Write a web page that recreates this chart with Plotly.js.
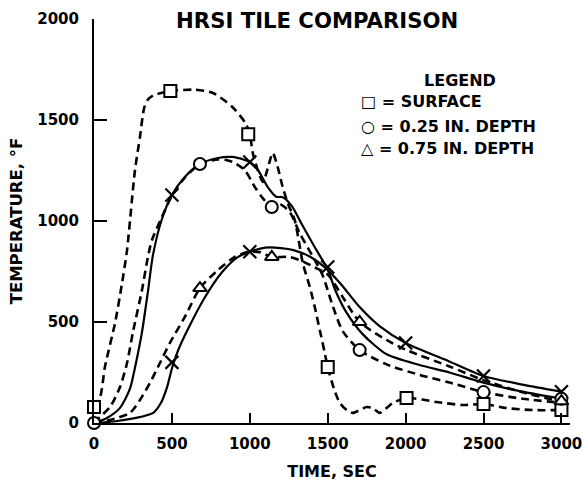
<!DOCTYPE html>
<html>
<head>
<meta charset="utf-8">
<script src="https://cdn.plot.ly/plotly-3.0.1.min.js"></script>
<style>html,body{margin:0;padding:0;background:#fff;}#chart{width:583px;height:484px;}</style>
</head>
<body>
<div id="chart"></div>
<script>
// ---- Data (time in s, temperature in °F) ----
// Surface, test (dashed)
const surfT = [0, 40, 70, 135, 180, 212, 263, 295, 322, 345, 380, 490, 650, 760, 885, 970, 1000, 1019, 1051, 1085, 1115, 1147, 1179, 1211, 1243, 1288, 1310, 1340, 1385, 1417, 1449, 1481, 1500, 1540, 1577, 1622, 1660, 1750, 1788, 1833, 1917, 2006, 2199, 2365, 2500, 2647, 2814, 3000];
const surfY = [79, 130, 277, 495, 693, 856, 1252, 1416, 1560, 1600, 1622, 1643, 1650, 1635, 1567, 1487, 1430, 1337, 1252, 1193, 1260, 1337, 1267, 1168, 1089, 1005, 921, 792, 673, 574, 460, 347, 277, 170, 100, 64, 50, 79, 74, 50, 99, 124, 104, 89, 94, 74, 64, 64];
// 0.25 in. depth, test (dashed)
const d25T = [0, 38, 103, 167, 212, 250, 308, 346, 372, 436, 500, 583, 680, 795, 860, 904, 968, 1032, 1077, 1141, 1200, 1260, 1320, 1400, 1468, 1532, 1596, 1705, 1878, 2090, 2282, 2500, 2750, 3000];
const d25Y = [0, 30, 79, 178, 297, 450, 658, 822, 906, 1020, 1125, 1215, 1282, 1305, 1300, 1287, 1252, 1168, 1119, 1069, 1080, 1040, 940, 830, 730, 580, 455, 361, 290, 238, 200, 153, 120, 100];
// 0.25 in. depth, analysis (solid)
const s25T = [0, 83, 167, 231, 270, 308, 346, 378, 436, 500, 583, 680, 795, 885, 968, 1000, 1050, 1115, 1170, 1211, 1269, 1333, 1417, 1500, 1550, 1622, 1724, 1878, 2090, 2282, 2500, 2750, 3000];
const s25Y = [0, 25, 75, 170, 300, 450, 650, 830, 1010, 1129, 1218, 1282, 1312, 1317, 1302, 1292, 1255, 1168, 1120, 1118, 1075, 985, 870, 760, 655, 545, 440, 340, 287, 250, 200, 155, 120];
// 0.75 in. depth, test (dashed)
const d75T = [0, 103, 231, 295, 359, 423, 487, 583, 680, 795, 904, 987, 1064, 1141, 1256, 1340, 1417, 1500, 1596, 1705, 1878, 2006, 2282, 2500, 2750, 3000];
const d75Y = [0, 15, 50, 114, 198, 297, 396, 525, 668, 757, 822, 846, 846, 822, 822, 800, 770, 735, 624, 500, 411, 361, 280, 212, 152, 105];
// 0.75 in. depth, analysis (solid)
const s75T = [0, 150, 300, 380, 430, 470, 500, 540, 600, 710, 820, 920, 1000, 1100, 1200, 1280, 1390, 1480, 1580, 1705, 1835, 2000, 2280, 2500, 2750, 3000];
const s75Y = [0, 10, 30, 50, 100, 180, 270, 360, 460, 620, 745, 820, 848, 868, 866, 856, 822, 772, 692, 574, 478, 396, 305, 233, 190, 155];

// Marked points
const sqT = [0, 490, 990, 1500, 2006, 2500, 3000];
const sqY = [79, 1643, 1430, 277, 124, 94, 64];
const ciT = [0, 680, 1141, 1705, 2500, 3000];
const ciY = [0, 1282, 1069, 361, 153, 120];
const trT = [680, 1141, 1705, 3000];
const trY = [668, 822, 500, 108];
const x75T = [500, 1000, 1500, 2000, 2500, 3000];
const x75Y = [300, 848, 772, 396, 233, 155];
const x25T = [500, 1000];
const x25Y = [1129, 1292];

const xTicks = [0, 500, 1000, 1500, 2000, 2500, 3000];
const yTicks = [0, 500, 1000, 1500, 2000];

const FONT = "DejaVu Sans";
const dashStyle = "8px,5px";

function lineTrace(x, y, dashed) {
  return {x: x, y: y, mode: "lines", type: "scatter", hoverinfo: "skip",
    line: {color: "#000", width: dashed ? 2.6 : 2.2, dash: dashed ? dashStyle : "solid", shape: "spline", smoothing: 0.7},
    cliponaxis: false};
}
function markerTrace(x, y, symbol, size) {
  return {x: x, y: y, mode: "markers", type: "scatter", hoverinfo: "skip",
    marker: {symbol: symbol, size: size, color: "#fff", line: {color: "#000", width: 2}},
    cliponaxis: false};
}
function xTrace(x, y) {
  return {x: x, y: y, mode: "markers", type: "scatter", hoverinfo: "skip",
    marker: {symbol: "x-thin", size: 13, color: "#000", line: {color: "#000", width: 2.2}},
    cliponaxis: false};
}

const traces = [
  lineTrace(surfT, surfY, true),
  lineTrace(d25T, d25Y, true),
  lineTrace(s25T, s25Y, false),
  lineTrace(d75T, d75Y, true),
  lineTrace(s75T, s75Y, false),
  xTrace(x75T, x75Y),
  xTrace(x25T, x25Y),
  markerTrace(sqT, sqY, "square", 12),
  markerTrace(ciT, ciY, "circle", 12),
  markerTrace(trT, trY, "triangle-up", 12)
];

const legendFont = {family: FONT, size: 16, color: "#000", weight: "bold"};
const layout = {
  width: 583, height: 484,
  margin: {l: 94, r: 13, t: 19, b: 61, pad: 0},
  paper_bgcolor: "#fff", plot_bgcolor: "#fff",
  showlegend: false,
  title: {text: "HRSI TILE COMPARISON", font: {family: FONT, size: 21.2, color: "#000", weight: "bold"},
    x: 0.544, xanchor: "center", xref: "container", y: 0.958, yanchor: "middle", yref: "container"},
  xaxis: {range: [0, 3055], tickvals: xTicks, ticktext: xTicks.map(String),
    ticks: "inside", ticklen: 10, tickwidth: 2, tickcolor: "#000",
    showline: true, linewidth: 2, linecolor: "#000", showgrid: false, zeroline: false,
    tickfont: {family: FONT, size: 15, color: "#000", weight: "bold"}, ticklabelstandoff: 6,
    title: {text: "TIME, SEC", font: {family: FONT, size: 16, color: "#000", weight: "bold"}, standoff: 14}},
  yaxis: {range: [0, 2000], tickvals: yTicks, ticktext: yTicks.map(String),
    ticks: "inside", ticklen: 13, tickwidth: 2, tickcolor: "#000",
    showline: true, linewidth: 2, linecolor: "#000", showgrid: false, zeroline: false,
    tickfont: {family: FONT, size: 15, color: "#000", weight: "bold"}, ticklabelstandoff: 10,
    title: {text: "TEMPERATURE, °F", font: {family: FONT, size: 16.5, color: "#000", weight: "bold"}, standoff: 10}},
  annotations: [
    {text: "LEGEND", xref: "paper", yref: "paper", x: 0.769, y: 0.849, xanchor: "center", yanchor: "middle", showarrow: false, font: legendFont},
    {text: "□ = SURFACE", xref: "paper", yref: "paper", x: (359 - 94) / 476, y: (423 - 102) / 404, xanchor: "left", yanchor: "middle", showarrow: false, font: legendFont},
    {text: "○ = 0.25 IN. DEPTH", xref: "paper", yref: "paper", x: (359 - 94) / 476, y: (423 - 126) / 404, xanchor: "left", yanchor: "middle", showarrow: false, font: legendFont},
    {text: "△ = 0.75 IN. DEPTH", xref: "paper", yref: "paper", x: (359 - 94) / 476, y: (423 - 149) / 404, xanchor: "left", yanchor: "middle", showarrow: false, font: legendFont}
  ]
};

Plotly.newPlot("chart", traces, layout, {staticPlot: true, displayModeBar: false});
</script>
</body>
</html>
